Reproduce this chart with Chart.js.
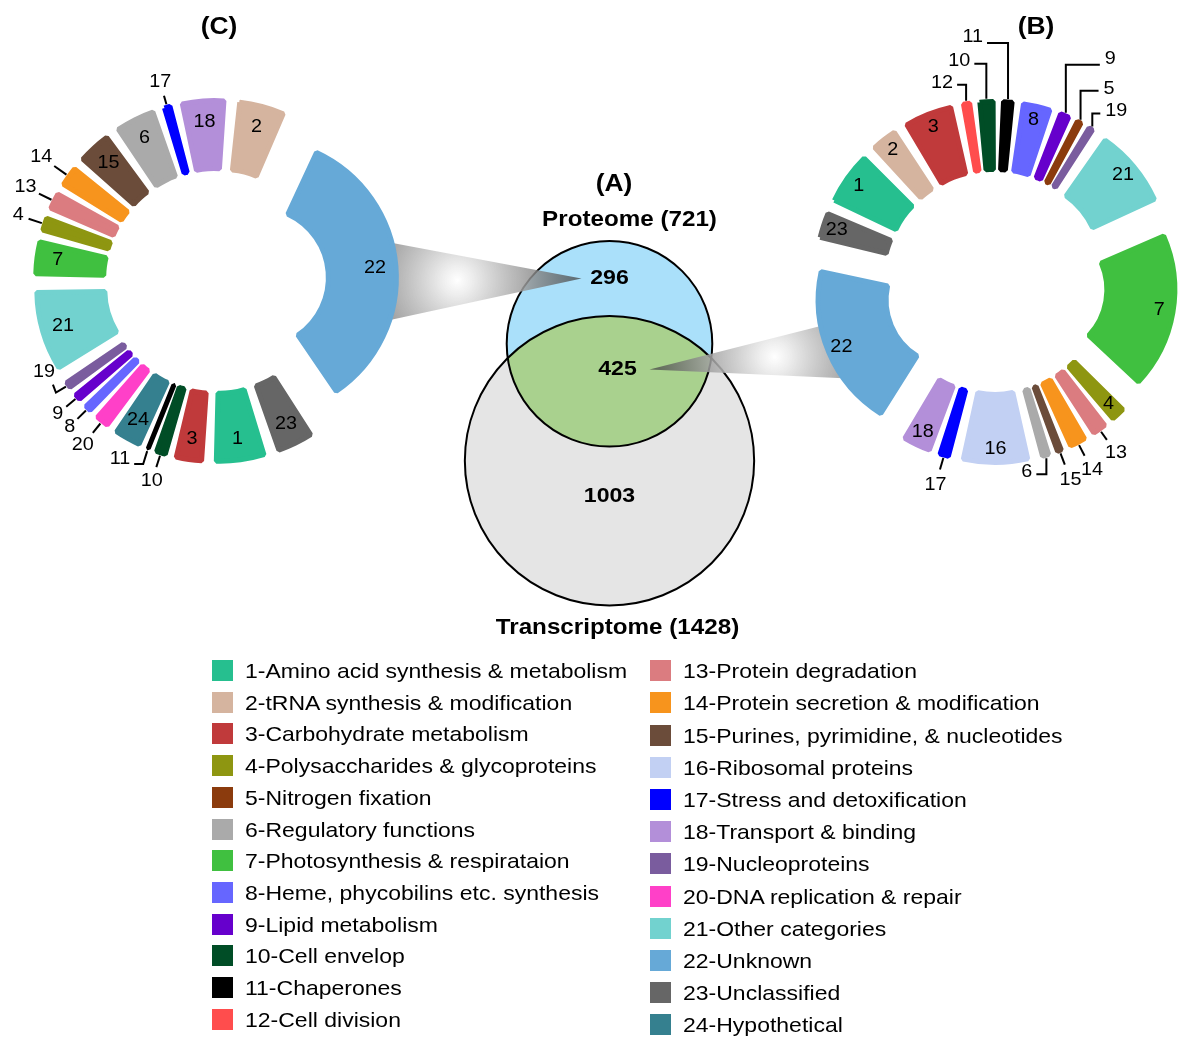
<!DOCTYPE html>
<html lang="en">
<head>
<meta charset="utf-8">
<title>Proteome / transcriptome functional categories</title>
<script src="https://cdn.jsdelivr.net/npm/chart.js@4.4.1/dist/chart.umd.min.js"></script>
<style>
    html, body { margin: 0; padding: 0; background: #fff; }
    #page { position: relative; width: 1200px; height: 1062px; overflow: hidden; font-family: "Liberation Sans", Arial, sans-serif; }
    #page canvas { position: absolute; top: 0; }
    #vennChart { left: 0; z-index: 0; }
    #chartC { left: 0; z-index: 1; }
    #chartB { left: 790px; z-index: 1; }
    .legend-item { position: absolute; height: 21px; white-space: nowrap; z-index: 2; }
    .legend-item .swatch { position: absolute; left: 0; top: 0; width: 21px; height: 21px; }
    .legend-item .text { position: absolute; left: 33px; top: 0; line-height: 21px; font-size: 21px; color: #000;
        transform: scaleX(1.095); transform-origin: 0 50%; }
</style>
</head>
<body>
<div id="page">
    <canvas id="vennChart" width="1200" height="1062"></canvas>
    <canvas id="chartC" width="432" height="562"></canvas>
    <canvas id="chartB" width="410" height="564"></canvas>
    <div id="legend"></div>
</div>
<script>
// Functional categories, numbered 1..24 as in the legend
const categoryNames = [
    'Amino acid synthesis & metabolism', 'tRNA synthesis & modification', 'Carbohydrate metabolism',
    'Polysaccharides & glycoproteins', 'Nitrogen fixation', 'Regulatory functions',
    'Photosynthesis & respirataion', 'Heme, phycobilins etc. synthesis', 'Lipid metabolism',
    'Cell envelop', 'Chaperones', 'Cell division',
    'Protein degradation', 'Protein secretion & modification', 'Purines, pyrimidine, & nucleotides',
    'Ribosomal proteins', 'Stress and detoxification', 'Transport & binding',
    'Nucleoproteins', 'DNA replication & repair', 'Other categories',
    'Unknown', 'Unclassified', 'Hypothetical'
];
const categoryColors = [
    '#26BF8F', '#D5B49F', '#C03A3B', '#8E9611', '#8B3B0D', '#AAAAAA',
    '#40C040', '#6666FF', '#6600CC', '#004D26', '#000000', '#FF4D4D',
    '#DB7C80', '#F7941D', '#6B4C3A', '#C2D0F3', '#0000FF', '#B38FD9',
    '#7A5C9E', '#FF40C8', '#72D2CF', '#66A9D7', '#666666', '#35808F'
];

// (C) proteins only seen in the proteome, clockwise from 12 o'clock
const proteomeOnlyCategories = [2, 22, 23, 1, 3, 10, 11, 24, 20, 8, 9, 19, 21, 7, 4, 13, 14, 15, 6, 17, 18];
const proteomeOnlyCounts     = [16, 100, 13, 17, 10, 5, 2, 10, 6, 4, 4, 4, 27, 12, 6, 7, 8, 12, 14, 4, 15];

// (B) proteins common to proteome and transcriptome, clockwise
const commonCategories = [12, 10, 11, 8, 9, 5, 19, 21, 7, 4, 13, 14, 15, 6, 16, 17, 18, 22, 23, 1, 2, 3];
const commonCounts     = [6, 9, 7, 15, 7, 5, 5, 38, 79, 9, 9, 10, 5, 6, 32, 7, 15, 83, 14, 26, 14, 24];

// (A) Venn diagram
const vennSetNames = ['Proteome', 'Transcriptome'];
const vennSetTotals = [721, 1428];
const vennRegionCounts = [296, 425, 1003];   // proteome only, both, transcriptome only

const FONT = '"Liberation Sans", Arial, sans-serif';
const STRETCH = 1.1;
const EXPLODE = 49;    // how far every slice is pulled out of the ring

Chart.defaults.font.family = FONT;

function drawText(ctx, text, x, y, size, weight, align) {
    ctx.save();
    ctx.font = (weight || 'normal') + ' ' + size + 'px ' + FONT;
    ctx.textAlign = align || 'center';
    ctx.textBaseline = 'middle';
    ctx.fillStyle = '#000';
    ctx.translate(x, y);
    ctx.scale(STRETCH, 1);
    ctx.fillText(text, 0, 0);
    ctx.restore();
}

// slice numbers, leader lines and panel letter
function sliceLabels(cats, opts) {
    return {
        id: 'sliceLabels',
        afterDatasetsDraw(chart) {
            const ctx = chart.ctx;
            const arcs = chart.getDatasetMeta(0).data;
            arcs.forEach((arc, i) => {
                const p = arc.getProps(['x', 'y', 'startAngle', 'endAngle', 'innerRadius', 'outerRadius'], true);
                const mid = (p.startAngle + p.endAngle) / 2;
                const ux = Math.cos(mid), uy = Math.sin(mid);
                const rOut = p.outerRadius + EXPLODE + 2;
                const rIn = p.innerRadius + EXPLODE - 2;
                const cat = cats[i];
                const call = opts.callouts[cat];
                if (!call) {
                    const r = rIn + opts.labelPos * (rOut - rIn);
                    drawText(ctx, String(cat), p.x + ux * r, p.y + uy * r, 18);
                    return;
                }
                let x = p.x + ux * (rOut + 1), y = p.y + uy * (rOut + 1);
                ctx.save();
                ctx.strokeStyle = '#000';
                ctx.lineWidth = 2;
                ctx.beginPath();
                ctx.moveTo(x, y);
                if (call.path) {
                    call.path.forEach(m => { x += m[0]; y += m[1]; ctx.lineTo(x, y); });
                    ctx.stroke();
                    ctx.restore();
                    drawText(ctx, String(cat), x + call.label[0], y + call.label[1], 18, 'normal', call.align);
                } else {
                    x += ux * call.len; y += uy * call.len;
                    ctx.lineTo(x, y);
                    ctx.stroke();
                    ctx.restore();
                    drawText(ctx, String(cat), x + ux * call.gap, y + uy * call.gap, 18);
                }
            });
            drawText(ctx, opts.title, chart.chartArea.left + chart.chartArea.width / 2 + opts.titleDx, 27, 24, 'bold');
        }
    };
}

function makeDonut(id, cats, counts, opts) {
    const total = counts.reduce((a, b) => a + b, 0);
    const colors = cats.map(c => categoryColors[c - 1]);
    return new Chart(document.getElementById(id), {
        type: 'doughnut',
        data: {
            labels: cats.map(c => c + '-' + categoryNames[c - 1]),
            datasets: [{
                data: counts,
                backgroundColor: colors,
                // same-colour outline keeps thin slices as wide as in the figure
                borderColor: colors,
                borderWidth: 5,
                borderJoinStyle: 'bevel',
                // exploded slices: keep every slice at the same distance from the centre
                offset: ctx => {
                    const circ = ctx.raw / total * 2 * Math.PI;
                    const fix = 1 - Math.sin(Math.min(Math.PI, circ));
                    return 4 * EXPLODE / (1 + fix);
                }
            }]
        },
        options: {
            responsive: false,
            animation: false,
            events: [],
            rotation: opts.rotation,
            radius: opts.radius,
            cutout: opts.cutout,
            layout: { padding: 0 },
            plugins: { legend: { display: false }, tooltip: { enabled: false } }
        },
        plugins: [sliceLabels(cats, opts)]
    });
}

const donutC = makeDonut('chartC', proteomeOnlyCategories, proteomeOnlyCounts, {
    title: '(C)', titleDx: 3, rotation: 5, radius: 131.5, cutout: '48.3%', labelPos: 0.68,
    callouts: {
        17: { len: 9, gap: 14 },
        14: { len: 15, gap: 16 },
        13: { len: 14, gap: 15 },
        4: { len: 14, gap: 11 },
        19: { path: [[-10, 6], [-3, -8]], label: [-9, -13], align: 'center' },
        9: { len: 12, gap: 11 },
        8: { len: 12, gap: 11 },
        20: { len: 12, gap: 16 },
        11: { path: [[-4, 13], [-9, 0]], label: [-4, -5], align: 'right' },
        10: { len: 12, gap: 15 }
    }
});

const donutB = makeDonut('chartB', commonCategories, commonCounts, {
    title: '(B)', titleDx: 41, rotation: 348.4, radius: 131.5, cutout: '48.3%', labelPos: 0.78,
    callouts: {
        12: { path: [[0, -16], [-9, 0]], label: [-4, -2], align: 'right' },
        10: { path: [[0, -35], [-12, 0]], label: [-4, -3], align: 'right' },
        11: { path: [[0, -56], [-21, 0]], label: [-4, -6], align: 'right' },
        9: { path: [[0, -48], [34, 0]], label: [5, -6], align: 'left' },
        5: { path: [[0, -29], [18, 0]], label: [5, -2], align: 'left' },
        19: { path: [[0, -13], [8, 0]], label: [5, -2], align: 'left' },
        17: { len: 12, gap: 16 },
        6: { path: [[0, 16], [-10, 0]], label: [-4, -2], align: 'right' },
        15: { len: 12, gap: 16 },
        14: { len: 12, gap: 16 },
        13: { len: 10, gap: 16 }
    }
});

// ---- Venn: circle areas proportional to the counts ----
function lensArea(a, b, d) {
    if (d >= a + b) return 0;
    if (d <= Math.abs(a - b)) return Math.PI * Math.min(a, b) ** 2;
    const ta = Math.acos((d * d + a * a - b * b) / (2 * d * a));
    const tb = Math.acos((d * d + b * b - a * a) / (2 * d * b));
    return a * a * ta + b * b * tb - 0.5 * Math.sqrt((-d + a + b) * (d + a - b) * (d - a + b) * (d + a + b));
}

function centreDistance(a, b, area) {
    let lo = Math.abs(a - b), hi = a + b;
    for (let i = 0; i < 60; i++) {
        const mid = (lo + hi) / 2;
        if (lensArea(a, b, mid) > area) lo = mid; else hi = mid;
    }
    return (lo + hi) / 2;
}

const rP = Math.sqrt(vennSetTotals[0] / Math.PI);
const rT = Math.sqrt(vennSetTotals[1] / Math.PI);
const dPT = centreDistance(rP, rT, vennRegionCounts[1]);

const VENN_PX = 3.828 * Math.sqrt(Math.PI);   // pixels per unit on both axes
const VENN_X = 609.5, VENN_Y = 343.8;         // page position of the proteome centre

function arcAnchor(chart, cats, cat, frac, inset, pageX) {
    const arc = chart.getDatasetMeta(0).data[cats.indexOf(cat)];
    const a = arc.startAngle + (arc.endAngle - arc.startAngle) * frac;
    const r = arc.outerRadius + EXPLODE - inset;
    return { x: pageX + arc.x + Math.cos(a) * r, y: arc.y + Math.sin(a) * r };
}

function drawFunnel(ctx, base, tip, halfW, hiFrac) {
    const dx = tip.x - base.x, dy = tip.y - base.y, L = Math.hypot(dx, dy);
    const nx = -dy / L, ny = dx / L;
    const hx = base.x + dx * hiFrac, hy = base.y + dy * hiFrac;
    const g = ctx.createRadialGradient(hx, hy, 0, hx, hy, L * (1 - hiFrac));
    g.addColorStop(0, 'rgba(255,255,255,0.95)');
    g.addColorStop(0.12, 'rgba(236,236,236,0.92)');
    g.addColorStop(0.5, 'rgba(165,165,165,0.85)');
    g.addColorStop(1, 'rgba(60,60,60,0.72)');
    ctx.save();
    ctx.beginPath();
    ctx.moveTo(base.x + nx * halfW, base.y + ny * halfW);
    ctx.lineTo(tip.x, tip.y);
    ctx.lineTo(base.x - nx * halfW, base.y - ny * halfW);
    ctx.closePath();
    ctx.fillStyle = g;
    ctx.fill();
    ctx.restore();
}

const vennDecor = {
    id: 'vennDecor',
    beforeDatasetDraw(chart, args) {
        if (args.index !== 1) return;
        // the overlap: proteome circle clipped by the transcriptome circle
        const el = chart.getDatasetMeta(3).data[0];
        const ctx = chart.ctx;
        ctx.save();
        ctx.beginPath();
        ctx.arc(el.x, el.y, el.options.radius, 0, 2 * Math.PI);
        ctx.clip();
    },
    afterDatasetDraw(chart, args) {
        if (args.index === 1) chart.ctx.restore();
    },
    afterDatasetsDraw(chart) {
        const ctx = chart.ctx;
        const sx = chart.scales.x, sy = chart.scales.y;
        const cx = sx.getPixelForValue(0);
        const topP = sy.getPixelForValue(rP), botP = sy.getPixelForValue(-rP);
        const topT = sy.getPixelForValue(-dPT + rT), botT = sy.getPixelForValue(-dPT - rT);

        const l296 = { x: cx, y: (topP + topT) / 2 };
        const l425 = { x: cx + 8, y: topT * 0.59 + botP * 0.41 };
        const l1003 = { x: cx, y: botP * 0.686 + botT * 0.314 };

        drawFunnel(ctx, arcAnchor(donutC, proteomeOnlyCategories, 22, 0.54, 22, 0),
            { x: l296.x - 28, y: l296.y }, 42, 0.4);
        drawFunnel(ctx, arcAnchor(donutB, commonCategories, 22, 0.47, 22, 790),
            { x: l425.x + 32, y: l425.y }, 30, 0.38);

        drawText(ctx, String(vennRegionCounts[0]), l296.x, l296.y, 21, 'bold');
        drawText(ctx, String(vennRegionCounts[1]), l425.x, l425.y, 21, 'bold');
        drawText(ctx, String(vennRegionCounts[2]), l1003.x, l1003.y, 21, 'bold');
        drawText(ctx, vennSetNames[0] + ' (' + vennSetTotals[0] + ')', cx + 20, topP - 21, 22, 'bold');
        drawText(ctx, vennSetNames[1] + ' (' + vennSetTotals[1] + ')', cx + 8, botT + 23, 22, 'bold');
        drawText(ctx, '(A)', cx + 4.5, topP - 57, 24, 'bold');
    }
};

// bubble radius in pixels = radius in axis units times pixels per unit
const bubble = (y, r) => ({ x: 0, y: y, r: r * VENN_PX });

new Chart(document.getElementById('vennChart'), {
    type: 'bubble',
    data: {
        datasets: [
            { label: 'outline', data: [bubble(0, rP), bubble(-dPT, rT)],
              backgroundColor: 'rgba(0,0,0,0)', borderColor: '#000', borderWidth: 2, order: 0 },
            { label: 'Both', data: [bubble(0, rP)],
              backgroundColor: '#A9D18E', borderWidth: 0, order: 1 },
            { label: vennSetNames[0], data: [bubble(0, rP)],
              backgroundColor: '#AAE0FA', borderWidth: 0, order: 2 },
            { label: vennSetNames[1], data: [bubble(-dPT, rT)],
              backgroundColor: '#E5E5E5', borderWidth: 0, order: 3 }
        ]
    },
    options: {
        responsive: false,
        animation: false,
        events: [],
        layout: { padding: 0, autoPadding: false },
        scales: {
            x: { type: 'linear', display: false, min: -VENN_X / VENN_PX, max: (1200 - VENN_X) / VENN_PX },
            y: { type: 'linear', display: false, min: -(1062 - VENN_Y) / VENN_PX, max: VENN_Y / VENN_PX }
        },
        plugins: { legend: { display: false }, tooltip: { enabled: false } }
    },
    plugins: [vennDecor]
});

// ---- legend, two columns of twelve ----
function buildLegend() {
    const host = document.getElementById('legend');
    categoryNames.forEach((name, i) => {
        const col = i < 12 ? 0 : 1;
        const row = i % 12;
        const item = document.createElement('div');
        item.className = 'legend-item';
        item.style.left = (col ? 650 : 212) + 'px';
        item.style.top = ((col ? 670.7 + row * 32.2 : 670.5 + row * 31.7) - 10.5) + 'px';
        const sw = document.createElement('span');
        sw.className = 'swatch';
        sw.style.background = categoryColors[i];
        const tx = document.createElement('span');
        tx.className = 'text';
        tx.textContent = (i + 1) + '-' + name;
        item.appendChild(sw);
        item.appendChild(tx);
        host.appendChild(item);
    });
}
buildLegend();
</script>
</body>
</html>
